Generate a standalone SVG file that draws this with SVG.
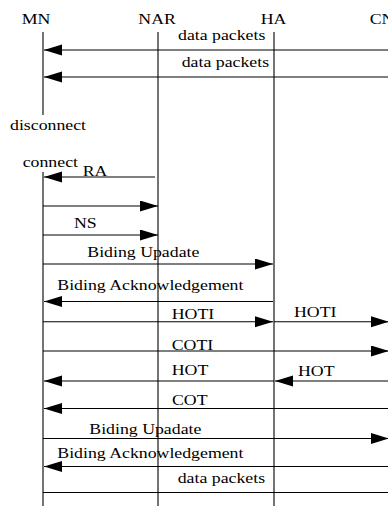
<svg xmlns="http://www.w3.org/2000/svg" width="388" height="506" viewBox="0 0 388 506">
<style>
text{font-family:"Liberation Serif","Times New Roman",serif;font-size:14px;fill:#000}
.life{stroke:#000;stroke-width:1.1;fill:none}
.msg{stroke:#000;stroke-width:1.1;fill:none}
.arr{marker-end:url(#ah)}
</style>
<defs>
<marker id="ah" markerUnits="userSpaceOnUse" markerWidth="19" markerHeight="12" refX="18" refY="5.5" orient="auto">
<path d="M0,0 L18,5.5 L0,11 z" fill="#000"/>
</marker>
</defs>
<rect width="388" height="506" fill="#fff"/>
<g id="node-MN">
<text transform="translate(21.7 24) scale(1.27 1)">MN</text>
<line class="life" x1="43" y1="32" x2="43" y2="115"/>
<text transform="translate(10 129.5) scale(1.27 1)">disconnect</text>
<text transform="translate(22.7 167) scale(1.27 1)">connect</text>
<line class="life" x1="43" y1="172" x2="43" y2="506"/>
</g>
<g id="node-NAR">
<text transform="translate(138.3 24) scale(1.27 1)">NAR</text>
<line class="life" x1="158" y1="32" x2="158" y2="506"/>
</g>
<g id="node-HA">
<text transform="translate(260.7 24) scale(1.27 1)">HA</text>
<line class="life" x1="274" y1="32" x2="274" y2="506"/>
</g>
<g id="node-CN">
<text transform="translate(369.7 24) scale(1.27 1)">CN</text>
</g>
<g id="connectors">
<line class="msg arr" x1="388" y1="50" x2="44" y2="50"/>
<text transform="translate(178 39.5) scale(1.27 1)">data packets</text>
<line class="msg arr" x1="388" y1="77" x2="44" y2="77"/>
<text transform="translate(181.7 67) scale(1.27 1)">data packets</text>
<line class="msg arr" x1="155" y1="177" x2="44" y2="177"/>
<text transform="translate(82.7 175.5) scale(1.27 1)">RA</text>
<line class="msg arr" x1="43" y1="206" x2="158" y2="206"/>
<line class="msg arr" x1="43" y1="235" x2="158" y2="235"/>
<text transform="translate(74 227.5) scale(1.27 1)">NS</text>
<line class="msg arr" x1="43" y1="264" x2="273" y2="264"/>
<text transform="translate(87.3 257) scale(1.27 1)">Biding Upadate</text>
<line class="msg arr" x1="273" y1="301.5" x2="44" y2="301.5"/>
<text transform="translate(57.3 290) scale(1.27 1)">Biding Acknowledgement</text>
<line class="msg arr" x1="43" y1="321.7" x2="273" y2="321.7"/>
<text transform="translate(171.7 319) scale(1.27 1)">HOTI</text>
<line class="msg arr" x1="274" y1="321.7" x2="389" y2="321.7"/>
<text transform="translate(294 317) scale(1.27 1)">HOTI</text>
<line class="msg arr" x1="43" y1="351" x2="389" y2="351"/>
<text transform="translate(171.7 350) scale(1.27 1)">COTI</text>
<line class="msg arr" x1="274" y1="381" x2="44" y2="381"/>
<text transform="translate(171.7 375) scale(1.27 1)">HOT</text>
<line class="msg arr" x1="388" y1="381" x2="275" y2="381"/>
<text transform="translate(298 376) scale(1.27 1)">HOT</text>
<line class="msg arr" x1="388" y1="408.5" x2="44" y2="408.5"/>
<text transform="translate(172 404.5) scale(1.27 1)">COT</text>
<line class="msg arr" x1="43" y1="438.5" x2="389" y2="438.5"/>
<text transform="translate(89.3 433.5) scale(1.27 1)">Biding Upadate</text>
<line class="msg arr" x1="388" y1="466.5" x2="44" y2="466.5"/>
<text transform="translate(57.3 458) scale(1.27 1)">Biding Acknowledgement</text>
<line class="msg" x1="43" y1="492.5" x2="388" y2="492.5"/>
<text transform="translate(177.7 483) scale(1.27 1)">data packets</text>
</g>
</svg>
